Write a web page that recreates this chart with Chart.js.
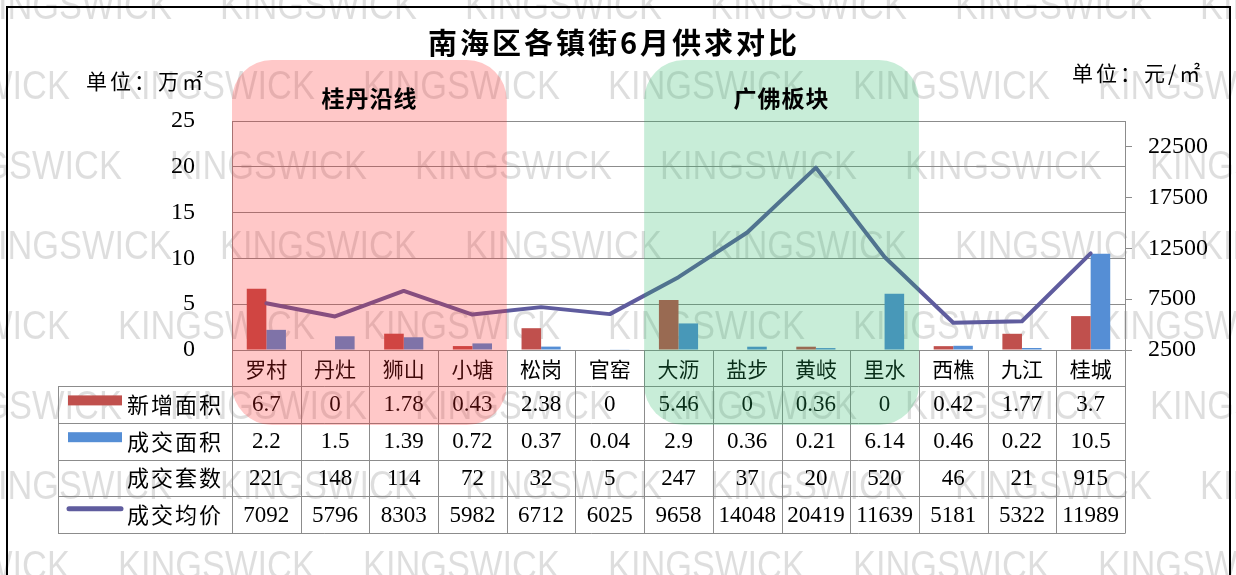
<!DOCTYPE html>
<html>
<head>
<meta charset="utf-8">
<script src="https://cdn.jsdelivr.net/npm/chart.js@4.4.1/dist/chart.umd.min.js"></script>
<style>
html,body{margin:0;padding:0;background:#fff}
canvas{display:block}
</style>
</head>
<body>
<canvas id="supplyChart" width="1236" height="575"></canvas>
<script>
/* ---------- data ---------- */
const towns = ["罗村","丹灶","狮山","小塘","松岗","官窑","大沥","盐步","黄岐","里水","西樵","九江","桂城"];
const newArea = [6.7,0,1.78,0.43,2.38,0,5.46,0,0.36,0,0.42,1.77,3.7];
const dealArea = [2.2,1.5,1.39,0.72,0.37,0.04,2.9,0.36,0.21,6.14,0.46,0.22,10.5];
const dealUnits = [221,148,114,72,32,5,247,37,20,520,46,21,915];
const avgPrice = [7092,5796,8303,5982,6712,6025,9658,14048,20419,11639,5181,5322,11989];
const areaTicks = [0,5,10,15,20,25];
const priceTicks = [2500,7500,12500,17500,22500];

const RED = "#C0504D";
const BLUE = "#558ED5";
const LINE = "#5F5C9E";
const GRID = "#8c8c8c";
const SERIF = '"Liberation Serif", "Noto Sans CJK SC", serif';
const CJK = '"Noto Sans CJK SC", sans-serif';

/* ---------- extra drawing: watermark, table, zones, titles ---------- */
const sheetPlugin = {
  id: "sheet",
  beforeDraw(chart){
    const ctx = chart.ctx;
    ctx.save();
    ctx.fillStyle = "#fff";
    ctx.fillRect(0,0,chart.width,chart.height);
    // KINGSWICK watermark rows
    ctx.font = '40px "Liberation Sans", sans-serif';
    ctx.fillStyle = "rgba(0,0,0,0.13)";
    ctx.textBaseline = "middle";
    const shifts = [220,118,170];
    for(let r=0;r<8;r++){
      const y = 8 + r*80;
      for(let x = shifts[r%3]-245; x < chart.width; x += 245){
        ctx.save();
        ctx.translate(x,y);
        ctx.scale(0.86,1);
        ctx.fillText("KINGSWICK",0,0);
        ctx.restore();
      }
    }
    ctx.restore();
  },
  afterDraw(chart){
    const ctx = chart.ctx;
    const xs = chart.scales.x;
    const area = chart.chartArea;
    const step = xs.getPixelForValue(1) - xs.getPixelForValue(0);
    const edge = i => xs.getPixelForValue(i) - step/2;
    const headH = 36, rowH = 36.8, tableL = 58;
    const ds = chart.data.datasets;

    const rows = [
      {name:"新增面积", values:newArea, swatch:"box", color:ds[0].backgroundColor},
      {name:"成交面积", values:dealArea, swatch:"box", color:ds[1].backgroundColor},
      {name:"成交套数", values:dealUnits},
      {name:"成交均价", values:avgPrice, swatch:"line", color:ds[2].borderColor}
    ];

    ctx.save();
    // table grid
    ctx.strokeStyle = GRID;
    ctx.lineWidth = 1;
    const top = area.bottom;
    const bottom = top + headH + rowH*rows.length;
    ctx.beginPath();
    for(let i=0;i<=towns.length;i++){
      const x = Math.round(edge(i)) + 0.5;
      ctx.moveTo(x, top); ctx.lineTo(x, bottom);
    }
    for(let r=0;r<=rows.length;r++){
      const y = Math.round(top + headH + rowH*r) + 0.5;
      ctx.moveTo(tableL, y); ctx.lineTo(Math.round(edge(towns.length))+0.5, y);
    }
    ctx.moveTo(tableL+0.5, top+headH); ctx.lineTo(tableL+0.5, bottom);
    ctx.stroke();

    // table text
    ctx.textBaseline = "middle";
    rows.forEach((row,r)=>{
      const cy = top + headH + rowH*r + rowH/2;
      if(row.swatch === "box"){
        ctx.fillStyle = row.color;
        ctx.fillRect(68, cy-9, 54, 10);
      } else if(row.swatch === "line"){
        ctx.strokeStyle = row.color;
        ctx.lineWidth = 5;
        ctx.lineCap = "round";
        ctx.beginPath(); ctx.moveTo(69, cy-6); ctx.lineTo(121, cy-6); ctx.stroke();
      }
      ctx.fillStyle = "#000";
      ctx.font = "22px " + CJK;
      ctx.textAlign = "left";
      ctx.letterSpacing = "2px";
      ctx.fillText(row.name, 127, cy);
      ctx.letterSpacing = "0px";
      ctx.font = "23px " + SERIF;
      ctx.textAlign = "center";
      row.values.forEach((v,i)=>{
        ctx.fillText(String(v), xs.getPixelForValue(i), cy+1);
      });
    });

    // highlighted zones
    const zones = [
      {label:"桂丹沿线", first:0, last:3, fill:"rgba(255,35,35,0.25)"},
      {label:"广佛板块", first:6, last:9, fill:"rgba(36,184,100,0.25)"}
    ];
    zones.forEach(z=>{
      const l = edge(z.first), rgt = edge(z.last+1);
      ctx.fillStyle = z.fill;
      ctx.beginPath();
      ctx.roundRect(l, 60, rgt-l, 365, 40);
      ctx.fill();
      ctx.fillStyle = "#000";
      ctx.font = "bold 23px " + CJK;
      ctx.textAlign = "center";
      ctx.letterSpacing = "1px";
      ctx.fillText(z.label, (l+rgt)/2, 98);
      ctx.letterSpacing = "0px";
    });

    // title and units
    ctx.fillStyle = "#000";
    ctx.textAlign = "center";
    ctx.font = "bold 29px " + CJK;
    ctx.letterSpacing = "3px";
    ctx.fillText("南海区各镇街6月供求对比", 614, 43);
    ctx.letterSpacing = "3px";
    ctx.font = "21px " + CJK;
    ctx.textAlign = "left";
    ctx.fillText("单位：万㎡", 86, 81);
    ctx.fillText("单位：元/㎡", 1072, 73);
    ctx.letterSpacing = "0px";

    // outer frame
    ctx.strokeStyle = "#000";
    ctx.lineWidth = 2;
    ctx.strokeRect(7, 7, 1223, 620);
    ctx.restore();
  }
};

/* ---------- chart ---------- */
new Chart(document.getElementById("supplyChart"), {
  type: "bar",
  data: {
    labels: towns,
    datasets: [
      {label:"新增面积", data:newArea, backgroundColor:RED, yAxisID:"y",
       categoryPercentage:0.57, barPercentage:1, order:1},
      {label:"成交面积", data:dealArea, backgroundColor:BLUE, yAxisID:"y",
       categoryPercentage:0.57, barPercentage:1, order:1},
      {type:"line", label:"成交均价", data:avgPrice, borderColor:LINE, borderWidth:4,
       pointRadius:0, tension:0, yAxisID:"y1", order:0, borderCapStyle:"round", borderJoinStyle:"round"}
    ]
  },
  options: {
    responsive: false,
    animation: false,
    layout: {padding:{top:121, left:0, right:0, bottom:0}},
    plugins: {
      legend: {display:false},
      title: {display:false},
      tooltip: {enabled:false}
    },
    scales: {
      x: {
        offset: true,
        grid: {display:false, drawTicks:false},
        border: {display:false},
        ticks: {color:"#000", font:{family:CJK, size:21}, padding:6, maxRotation:0, autoSkip:false},
        afterFit(s){ s.height = 225; }
      },
      y: {
        position: "left",
        min: 0, max: 25,
        afterBuildTicks(s){ s.ticks = areaTicks.map(v=>({value:v})); },
        ticks: {color:"#000", font:{family:SERIF, size:24}, padding:37, callback:v=>String(v)},
        grid: {color:GRID, drawTicks:false},
        border: {color:GRID},
        afterFit(s){ s.width = 232; }
      },
      y1: {
        position: "right",
        min: 2500, max: 25000,
        afterBuildTicks(s){ s.ticks = priceTicks.map(v=>({value:v})); },
        ticks: {color:"#000", font:{family:SERIF, size:24}, padding:16, callback:v=>String(v)},
        grid: {drawOnChartArea:false, color:GRID, tickLength:7},
        border: {color:GRID},
        afterFit(s){ s.width = 111; }
      }
    }
  },
  plugins: [sheetPlugin]
});
</script>
</body>
</html>
